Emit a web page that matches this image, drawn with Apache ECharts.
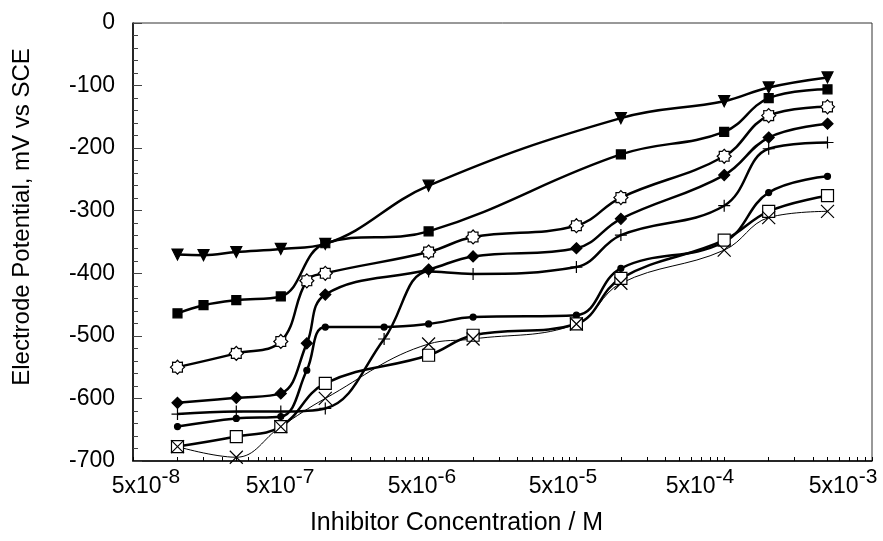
<!DOCTYPE html>
<html>
<head>
<meta charset="utf-8">
<script src="https://cdn.jsdelivr.net/npm/echarts@6/dist/echarts.min.js"></script>
<style>
  html, body { margin: 0; padding: 0; background: #fff; }
  #chart { width: 883px; height: 541px; }
</style>
</head>
<body>
<div id="chart"></div>
<script>
// concentrations (M) and potentials (mV vs SCE), one pair of arrays per curve
const concTriangle = [1e-7, 1.5e-7, 2.5e-7, 5e-7, 1e-6, 5e-6, 1e-4, 5e-4, 1e-3, 2.5e-3]
const potTriangle = [-370, -371, -366, -361, -353, -260, -152, -125, -103, -87]

const concSquare = [1e-7, 1.5e-7, 2.5e-7, 5e-7, 1e-6, 5e-6, 1e-4, 5e-4, 1e-3, 2.5e-3]
const potSquare = [-464, -451, -443, -437, -352, -333, -210, -174, -120, -106]

const concSun = [1e-7, 2.5e-7, 5e-7, 7.5e-7, 1e-6, 5e-6, 1e-5, 5e-5, 1e-4, 5e-4, 1e-3, 2.5e-3]
const potSun = [-550, -528, -509, -412, -400, -366, -342, -324, -279, -213, -148, -134]

const concDiamond = [1e-7, 2.5e-7, 5e-7, 7.5e-7, 1e-6, 5e-6, 1e-5, 5e-5, 1e-4, 5e-4, 1e-3, 2.5e-3]
const potDiamond = [-607, -599, -592, -512, -434, -394, -373, -360, -313, -243, -183, -161]

const concPlus = [1e-7, 2.5e-7, 5e-7, 1e-6, 2.5e-6, 5e-6, 1e-5, 5e-5, 1e-4, 5e-4, 1e-3, 2.5e-3]
const potPlus = [-625, -621, -621, -616, -505, -397, -401, -390, -339, -292, -201, -191]

const concDot = [1e-7, 2.5e-7, 5e-7, 7.5e-7, 1e-6, 2.5e-6, 5e-6, 1e-5, 5e-5, 1e-4, 5e-4, 1e-3, 2.5e-3]
const potDot = [-645, -632, -629, -555, -486, -486, -481, -470, -467, -392, -350, -271, -245]

const concOpenSquare = [1e-7, 2.5e-7, 5e-7, 1e-6, 5e-6, 1e-5, 5e-5, 1e-4, 5e-4, 1e-3, 2.5e-3]
const potOpenSquare = [-677, -661, -645, -576, -531, -499, -481, -408, -347, -301, -276]

const concCross = [1e-7, 2.5e-7, 5e-7, 1e-6, 5e-6, 1e-5, 5e-5, 1e-4, 5e-4, 1e-3, 2.5e-3]
const potCross = [-677, -694, -645, -600, -513, -505, -481, -416, -363, -311, -301]

// x axis: 5x10^-8 .. 5x10^-3, labels as printed
const xMin = 5e-8
const xMax = 5e-3
const xTickBase = ['5x10', '5x10', '5x10', '5x10', '5x10', '5x10']
const xTickPower = ['-8', '-7', '-6', '-5', '-4', '-3']
// label anchors (log10 units) - the printed labels drift left of their decades
const xLabelAt = [-7.213, -6.306, -5.346, -4.392, -3.465, -2.497]
// tick multipliers within each decade starting at 5x10^k
const tickMultipliers = [1, 2, 3, 4, 5, 6, 7, 8, 9]

const yTicks = [-700, -600, -500, -400, -300, -200, -100, 0]

const sunPath = 'path://M10,0 L12.87,3.07 L17.07,2.93 L16.93,7.13 L20,10 L16.93,12.87 L17.07,17.07 L12.87,16.93 L10,20 L7.13,16.93 L2.93,17.07 L3.07,12.87 L0,10 L3.07,7.13 L2.93,2.93 L7.13,3.07 Z'
const plusPath = 'path://M5,0 L5,10 M0,5 L10,5'
const crossPath = 'path://M0,0 L10,10 M10,0 L0,10'

const lgMin = Math.log10(xMin)
const lgMax = Math.log10(xMax)
const tickExps = []
for (let k = 0; k < 5; k++) {
  tickMultipliers.forEach((m) => tickExps.push(lgMin + k + Math.log10(m)))
}
tickExps.push(lgMax)

const pairs = (xs, ys) => xs.map((x, i) => [x, ys[i]])

function curve(name, xs, ys, symbol, size, fill, width, extra) {
  return Object.assign({
    name,
    type: 'line',
    xAxisIndex: 0,
    smooth: 0.4,
    data: pairs(xs, ys),
    symbol,
    symbolSize: size,
    showAllSymbol: true,
    lineStyle: { color: '#000', width },
    itemStyle: { color: fill, borderColor: '#000', borderWidth: 1.2 },
    emphasis: { disabled: true },
  }, extra || {})
}

const font = 'Liberation Sans, Arial, sans-serif'
const chart = echarts.init(document.getElementById('chart'), null, { renderer: 'canvas' })

chart.setOption({
  animation: false,
  backgroundColor: '#fff',
  textStyle: { fontFamily: font, color: '#000' },
  grid: {
    left: 133, right: 11, top: 23, bottom: 74,
    show: true, borderColor: '#333', borderWidth: 1, backgroundColor: 'transparent',
  },
  xAxis: [
    {
      type: 'log', logBase: 10, min: xMin, max: xMax, position: 'bottom',
      show: false,
    },
    {
      type: 'value', min: lgMin, max: lgMax, position: 'bottom',
      axisLine: { show: true, lineStyle: { color: '#000', width: 1.5 } },
      axisTick: { show: true, inside: true, length: 4, customValues: tickExps, lineStyle: { color: '#000' } },
      minorTick: { show: false },
      splitLine: { show: false },
      axisLabel: {
        customValues: xLabelAt,
        margin: 6,
        verticalAlign: 'top',
        formatter: (v) => {
          const i = xLabelAt.findIndex((a) => Math.abs(a - v) < 1e-6)
          return i < 0 ? '' : '{b|' + xTickBase[i] + '}{s|' + xTickPower[i] + '}'
        },
        rich: {
          b: { fontSize: 23, lineHeight: 40, color: '#000', fontFamily: font },
          s: { fontSize: 21, lineHeight: 20, verticalAlign: 'top', color: '#000', fontFamily: font },
        },
      },
      name: 'Inhibitor Concentration / M',
      nameLocation: 'middle',
      nameGap: 50,
      nameTextStyle: { fontSize: 25, color: '#000', padding: [0, 92, 0, 0] },
    },
  ],
  yAxis: {
    type: 'value', min: yTicks[0], max: yTicks[yTicks.length - 1], interval: 100,
    axisLine: { show: true, lineStyle: { color: '#000', width: 1.5 } },
    axisTick: { show: true, inside: true, length: 9, lineStyle: { color: '#444' } },
    minorTick: { show: true, splitNumber: 5, length: 5, lineStyle: { color: '#444' } },
    splitLine: { show: false },
    axisLabel: { fontSize: 23, color: '#000', margin: 18 },
    name: 'Electrode Potential, mV vs SCE',
    nameLocation: 'middle',
    nameGap: 99,
    nameTextStyle: { fontSize: 24, color: '#000', padding: [0, 0, 0, 50] },
  },
  series: [
    curve('triangle', concTriangle, potTriangle, 'triangle', 11, '#000', 2.5, { symbolRotate: 180 }),
    curve('square', concSquare, potSquare, 'rect', 9, '#000', 2.5),
    curve('sun', concSun, potSun, sunPath, 14, '#fff', 2.5),
    curve('diamond', concDiamond, potDiamond, 'diamond', 11, '#000', 2.5),
    curve('plus', concPlus, potPlus, plusPath, 12, 'none', 2.5),
    curve('dot', concDot, potDot, 'circle', 6, '#000', 2.5),
    curve('open square', concOpenSquare, potOpenSquare, 'rect', 12, '#fff', 2.5),
    curve('cross', concCross, potCross, crossPath, 13, 'none', 1),
  ],
})
</script>
</body>
</html>
